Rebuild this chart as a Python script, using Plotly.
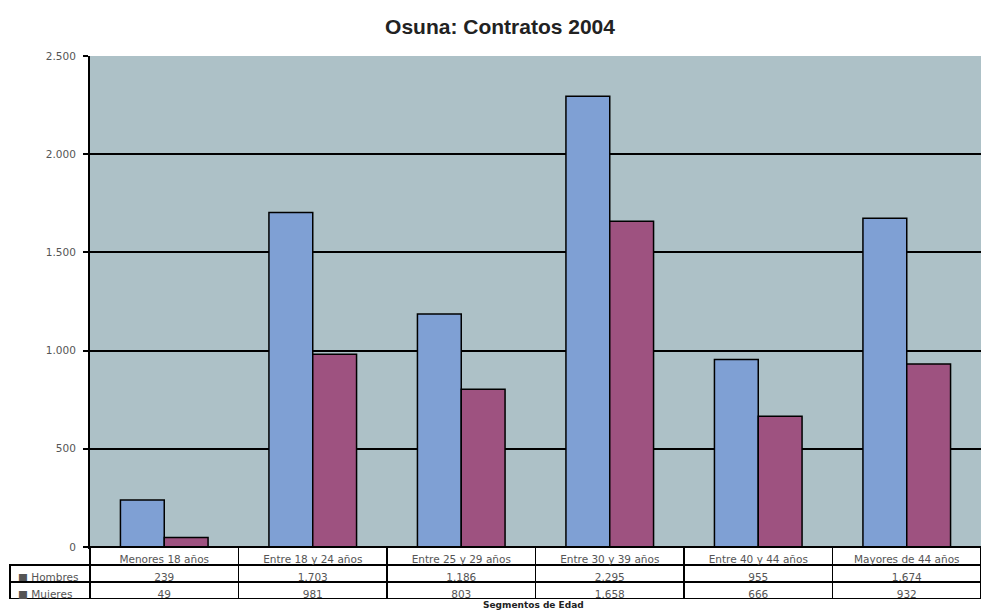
import plotly.graph_objects as go

categories = ["Menores 18 años", "Entre 18 y 24 años", "Entre 25 y 29 años",
              "Entre 30 y 39 años", "Entre 40 y 44 años", "Mayores de 44 años"]
hombres = [239, 1703, 1186, 2295, 955, 1674]
mujeres = [49, 981, 803, 1658, 666, 932]
series_names = ["Hombres", "Mujeres"]
y_ticks = [0, 500, 1000, 1500, 2000, 2500]

W, H = 981, 611
PX0, PX1 = 90, 981
PY0, PY1 = 56, 547
TY1 = 599

def fmt(v):
    return f"{v:,}".replace(",", ".")

col_h = "#7fa0d4"
col_m = "#9e5280"
FONT = "Liberation Sans, Arial"
TFONT = "DejaVu Sans"

fig = go.Figure()
fig.add_trace(go.Bar(x=categories, y=hombres, name=series_names[0],
                     marker=dict(color=col_h, line=dict(color="black", width=1.5))))
fig.add_trace(go.Bar(x=categories, y=mujeres, name=series_names[1],
                     marker=dict(color=col_m, line=dict(color="black", width=1.5))))

header_vals = [""] + categories
cell_vals = [["■ " + n for n in series_names]] + \
            [[fmt(h), fmt(m)] for h, m in zip(hombres, mujeres)]
fig.add_trace(go.Table(
    domain=dict(x=[10 / W, 1], y=[1 - TY1 / H, 1 - PY1 / H]),
    columnwidth=[80] + [148.5] * 6,
    header=dict(values=header_vals, height=18, align="center",
                line=dict(color=["rgba(0,0,0,0)"] + ["black"] * 6, width=1.5),
                fill=dict(color=["rgba(0,0,0,0)"] + ["white"] * 6),
                font=dict(family=TFONT, size=10.5, color="#555")),
    cells=dict(values=cell_vals, height=17,
               align=["left"] + ["center"] * 6,
               line=dict(color="black", width=1.5),
               fill=dict(color="white"),
               font=dict(family=TFONT, size=10.5, color="#555")),
))

fig.update_layout(
    width=W, height=H,
    margin=dict(l=0, r=0, t=0, b=0, autoexpand=False),
    paper_bgcolor="white",
    plot_bgcolor="#adc1c7",
    showlegend=False,
    separators=",.",
    bargap=0.41, bargroupgap=0,
    title=dict(text="<b>Osuna: Contratos 2004</b>", x=500 / W, xanchor="center",
               y=1 - 27 / H, yanchor="middle",
               font=dict(family=FONT, size=21, color="#222")),
    xaxis=dict(domain=[PX0 / W, PX1 / W], showticklabels=False, ticks="",
               automargin=False,
               showline=True, linecolor="black", linewidth=2, showgrid=False),
    yaxis=dict(domain=[1 - PY1 / H, 1 - PY0 / H], range=[0, 2500],
               automargin=False,
               tickvals=y_ticks, tickformat=",d",
               showline=True, linecolor="black", linewidth=2,
               ticks="outside", ticklen=5, tickcolor="black", tickwidth=1.5,
               ticklabelstandoff=5,
               showgrid=True, gridcolor="black", gridwidth=1.5,
               zeroline=False,
               tickfont=dict(family=TFONT, size=10.5, color="#555")),
    annotations=[dict(text="<b>Segmentos de Edad</b>", x=533 / W, y=0,
                      xref="paper", yref="paper", showarrow=False,
                      xanchor="center", yanchor="bottom", borderpad=0,
                      font=dict(family=TFONT, size=9, color="#222"))],
)

fig.write_html("out.html", config={"displayModeBar": False},
               post_script="document.body.style.margin='0';document.body.style.overflow='hidden';")
